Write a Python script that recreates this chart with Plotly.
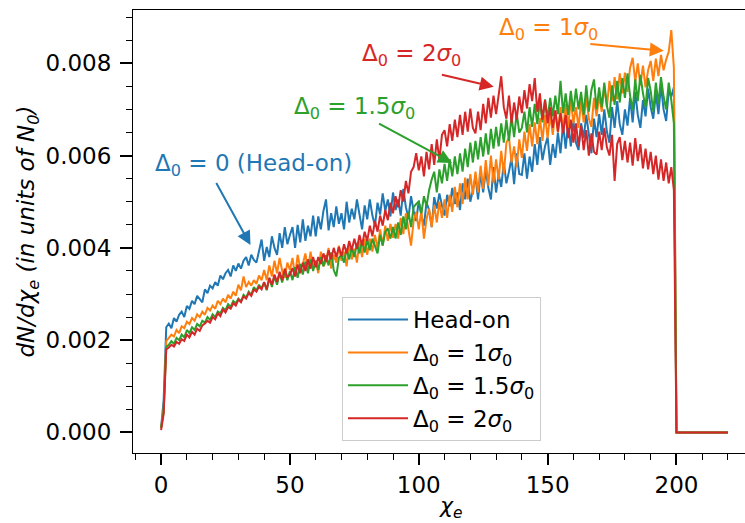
import numpy as np
import plotly.graph_objects as go

# dN/dchi_e values, in units of 1e-5 N0, one bin per unit of chi_e (0..220)
UNIT = 1e-5
CHI_E = list(range(0, 221))

HEAD_ON = [
    10, 70, 228, 236, 226, 248, 240, 255, 262, 250,
    274, 268, 285, 278, 296, 290, 282, 310, 302, 318,
    312, 326, 318, 340, 332, 345, 352, 338, 362, 350,
    366, 355, 372, 380, 362, 385, 374, 368, 395, 418,
    372, 402, 380, 425, 400, 385, 432, 400, 445, 408,
    428, 445, 400, 450, 412, 462, 415, 448, 425, 470,
    425, 468, 440, 480, 505, 438, 475, 445, 490, 452,
    475, 440, 500, 455, 485, 462, 505, 470, 440, 492,
    462, 505, 470, 448, 498, 472, 518, 480, 505, 468,
    520, 482, 505, 470, 528, 488, 465, 512, 480, 458,
    502, 470, 448, 498, 482, 445, 510, 485, 518, 492,
    470, 515, 490, 530, 495, 520, 482, 540, 505, 550,
    500, 525, 555, 505, 562, 520, 568, 530, 505, 575,
    520, 560, 532, 585, 540, 565, 595, 538, 605, 560,
    558, 605, 550, 598, 565, 625, 580, 640, 590, 620,
    640, 580, 625, 595, 650, 605, 668, 615, 672, 620,
    675, 628, 612, 670, 638, 688, 645, 605, 680, 640,
    690, 645, 700, 652, 628, 705, 660, 718, 668, 645,
    700, 665, 725, 672, 738, 688, 660, 720, 685, 745,
    705, 680, 735, 690, 752, 700, 675, 740, 728, 748,
    0, 0, 0, 0, 0, 0, 0, 0, 0, 0,
    0, 0, 0, 0, 0, 0, 0, 0, 0, 0, 0,
]

OFFSET_1 = [
    10, 50, 198, 205, 212, 208, 222, 215, 230, 226,
    240, 235, 248, 242, 256, 250, 262, 255, 270, 264,
    275, 268, 285, 278, 290, 282, 298, 290, 305, 296,
    320, 308, 338, 315, 326, 318, 330, 322, 340, 330,
    352, 330, 362, 338, 372, 345, 378, 350, 335, 368,
    352, 378, 340, 385, 355, 365, 388, 350, 392, 358,
    372, 345, 392, 360, 370, 400, 355, 385, 368, 405,
    372, 392, 360, 410, 375, 398, 368, 415, 380, 420,
    385, 420, 392, 428, 398, 440, 405, 448, 415, 452,
    422, 452, 420, 465, 430, 475, 438, 405, 458, 478,
    440, 482, 420, 462, 485, 445, 492, 455, 500, 465,
    505, 465, 515, 478, 532, 488, 540, 495, 552, 505,
    560, 515, 565, 520, 578, 528, 590, 535, 600, 540,
    592, 548, 610, 560, 628, 640, 585, 620, 575, 635,
    595, 652, 610, 668, 620, 672, 625, 682, 632, 688,
    638, 690, 645, 698, 650, 705, 652, 712, 660, 722,
    670, 705, 660, 718, 672, 728, 680, 662, 725, 685,
    730, 695, 750, 705, 762, 718, 770, 722, 778, 735,
    780, 738, 790, 812, 760, 800, 752, 795, 748, 785,
    805, 762, 810, 772, 818, 785, 808, 825, 872, 790,
    0, 0, 0, 0, 0, 0, 0, 0, 0, 0,
    0, 0, 0, 0, 0, 0, 0, 0, 0, 0, 0,
]

OFFSET_1P5 = [
    10, 45, 185, 190, 198, 192, 205, 200, 212, 206,
    222, 215, 228, 222, 235, 230, 242, 238, 250, 244,
    256, 250, 262, 258, 270, 265, 278, 272, 285, 280,
    290, 284, 298, 292, 305, 298, 315, 308, 320, 312,
    325, 308, 335, 315, 338, 320, 345, 325, 352, 330,
    350, 330, 358, 335, 365, 342, 370, 345, 375, 350,
    372, 352, 380, 360, 384, 362, 390, 352, 338, 378,
    385, 368, 398, 375, 402, 380, 410, 388, 415, 390,
    418, 395, 420, 402, 388, 428, 405, 435, 442, 420,
    445, 420, 455, 428, 468, 440, 478, 445, 488, 495,
    500, 475, 512, 490, 525, 548, 565, 520, 570, 540,
    582, 545, 592, 555, 598, 560, 605, 565, 615, 575,
    628, 585, 632, 592, 640, 598, 648, 602, 658, 615,
    662, 620, 670, 628, 678, 632, 685, 640, 692, 650,
    660, 695, 650, 705, 662, 712, 668, 718, 672, 722,
    680, 725, 685, 730, 690, 762, 692, 735, 688, 740,
    695, 745, 700, 738, 688, 752, 695, 742, 765, 700,
    748, 705, 758, 708, 682, 752, 710, 762, 715, 768,
    725, 778, 730, 698, 765, 718, 775, 735, 705, 768,
    740, 695, 758, 712, 770, 728, 700, 758, 720, 670,
    0, 0, 0, 0, 0, 0, 0, 0, 0, 0,
    0, 0, 0, 0, 0, 0, 0, 0, 0, 0, 0,
]

OFFSET_2 = [
    5, 40, 180, 184, 190, 186, 196, 192, 202, 198,
    212, 206, 218, 212, 225, 220, 232, 236, 242, 238,
    250, 245, 258, 252, 266, 260, 272, 268, 280, 275,
    288, 282, 295, 290, 302, 296, 310, 305, 316, 310,
    326, 310, 335, 320, 342, 326, 348, 330, 355, 336,
    342, 356, 338, 364, 345, 368, 350, 375, 355, 380,
    358, 380, 365, 388, 370, 395, 375, 400, 380, 402,
    382, 408, 388, 415, 395, 420, 398, 428, 405, 435,
    415, 448, 425, 458, 435, 470, 448, 482, 460, 498,
    475, 512, 488, 525, 500, 545, 518, 565, 575, 605,
    568, 598, 555, 608, 570, 625, 580, 635, 590, 645,
    655, 620, 668, 632, 678, 640, 688, 645, 695, 652,
    702, 660, 648, 695, 655, 712, 670, 725, 682, 730,
    690, 735, 772, 705, 680, 730, 670, 715, 678, 728,
    692, 742, 702, 755, 718, 768, 695, 735, 678, 720,
    670, 705, 660, 698, 652, 692, 648, 688, 638, 678,
    628, 670, 620, 665, 612, 655, 600, 648, 608, 602,
    652, 612, 660, 618, 600, 645, 545, 625, 640, 590,
    632, 585, 628, 578, 638, 588, 625, 572, 615, 570,
    608, 560, 600, 548, 592, 545, 585, 540, 575, 525,
    0, 0, 0, 0, 0, 0, 0, 0, 0, 0,
    0, 0, 0, 0, 0, 0, 0, 0, 0, 0, 0,
]

LEGEND_NAMES = [
    "Head-on",
    "Δ<sub>0</sub> = 1<i>σ</i><sub>0</sub>",
    "Δ<sub>0</sub> = 1.5<i>σ</i><sub>0</sub>",
    "Δ<sub>0</sub> = 2<i>σ</i><sub>0</sub>",
]
COLORS = ["#1f77b4", "#ff7f0e", "#2ca02c", "#d62728"]
SERIES = [HEAD_ON, OFFSET_1, OFFSET_1P5, OFFSET_2]

# annotation labels: text, text centre (x, y), arrow tail (x, y), arrow tip (x, y)
ANN_TEXT = [
    "Δ<sub>0</sub> = 0 (Head-on)",
    "Δ<sub>0</sub> = 1<i>σ</i><sub>0</sub>",
    "Δ<sub>0</sub> = 1.5<i>σ</i><sub>0</sub>",
    "Δ<sub>0</sub> = 2<i>σ</i><sub>0</sub>",
]
ANN_TEXT_XY = [(35.8, 0.00580), (150.5, 0.00874), (75.0, 0.00704), (97.3, 0.00817)]
ANN_TAIL_XY = [(21.1, 0.00544), (166.0, 0.00842), (84.0, 0.00671), (108.4, 0.00776)]
ANN_TIP_XY = [(34.7, 0.00406), (195.1, 0.00827), (112.9, 0.00584), (129.1, 0.00749)]

X_TITLE = "<i>χ<sub>e</sub></i>"
Y_TITLE = "<i>dN/dχ<sub>e</sub> (in units of N<sub>0</sub>)</i>"

FONT = "DejaVu Sans"

fig = go.Figure()
chi = np.array(CHI_E)
for name, vals, col in zip(LEGEND_NAMES, SERIES, COLORS):
    fig.add_trace(go.Scatter(
        x=chi, y=np.array(vals) * UNIT, mode="lines", name=name,
        line=dict(color=col, width=2),
    ))

annotations = []
for txt, (tx, ty), (ax_, ay_), (px, py), col in zip(
        ANN_TEXT, ANN_TEXT_XY, ANN_TAIL_XY, ANN_TIP_XY, COLORS):
    annotations.append(dict(
        x=tx, y=ty, xref="x", yref="y", text=txt, showarrow=False,
        font=dict(family=FONT, size=23, color=col),
        xanchor="center", yanchor="middle",
    ))
    annotations.append(dict(
        x=px, y=py, xref="x", yref="y", ax=ax_, ay=ay_, axref="x", ayref="y",
        text="", showarrow=True, arrowhead=2, arrowsize=1.4, arrowwidth=2,
        arrowcolor=col, standoff=0, startstandoff=0,
    ))

# x-axis title placed as paper annotation just under the tick labels
annotations.append(dict(
    x=0.52, y=-0.1575, xref="paper", yref="paper", text=X_TITLE,
    showarrow=False, xanchor="center", yanchor="bottom", borderpad=0,
    font=dict(family=FONT, size=22, color="black"),
))

fig.update_layout(
    width=745, height=523,
    margin=dict(l=133, r=0, t=10, b=70, autoexpand=False),
    paper_bgcolor="white", plot_bgcolor="white",
    font=dict(family=FONT, size=23, color="black"),
    annotations=annotations,
    legend=dict(
        x=0.3415, y=0.352, xanchor="left", yanchor="top",
        bgcolor="rgba(255,255,255,0.85)", bordercolor="#cccccc", borderwidth=1,
        font=dict(family=FONT, size=23, color="black"),
        tracegroupgap=0, itemwidth=60,
    ),
)

fig.update_xaxes(
    range=[-10.9, 226.6], showline=True, linecolor="black", linewidth=1,
    mirror=True, ticks="outside", ticklen=11, tickwidth=1.6, tickcolor="black",
    tick0=0, dtick=50, showgrid=False, zeroline=False,
    minor=dict(tick0=0, dtick=10, ticks="outside", ticklen=6, tickwidth=1.4,
               tickcolor="black", showgrid=False),
    tickfont=dict(family=FONT, size=23, color="black"),
)
fig.update_yaxes(
    range=[-0.000446, 0.009155], showline=True, linecolor="black", linewidth=1,
    mirror=False, ticks="outside", ticklen=12, tickwidth=1.6, tickcolor="black",
    tick0=0, dtick=0.002, tickformat=".3f", showgrid=False, zeroline=False,
    minor=dict(tick0=0, dtick=0.0005, ticks="outside", ticklen=6, tickwidth=1.4,
               tickcolor="black", showgrid=False),
    tickfont=dict(family=FONT, size=23, color="black"),
    ticklabelstandoff=4,
    title=dict(text=Y_TITLE, standoff=4,
               font=dict(family=FONT, size=23, color="black")),
)

fig.write_html(
    "out.html",
    config={"displayModeBar": False},
    post_script="document.body.style.margin='0';document.body.style.overflow='hidden';",
)
